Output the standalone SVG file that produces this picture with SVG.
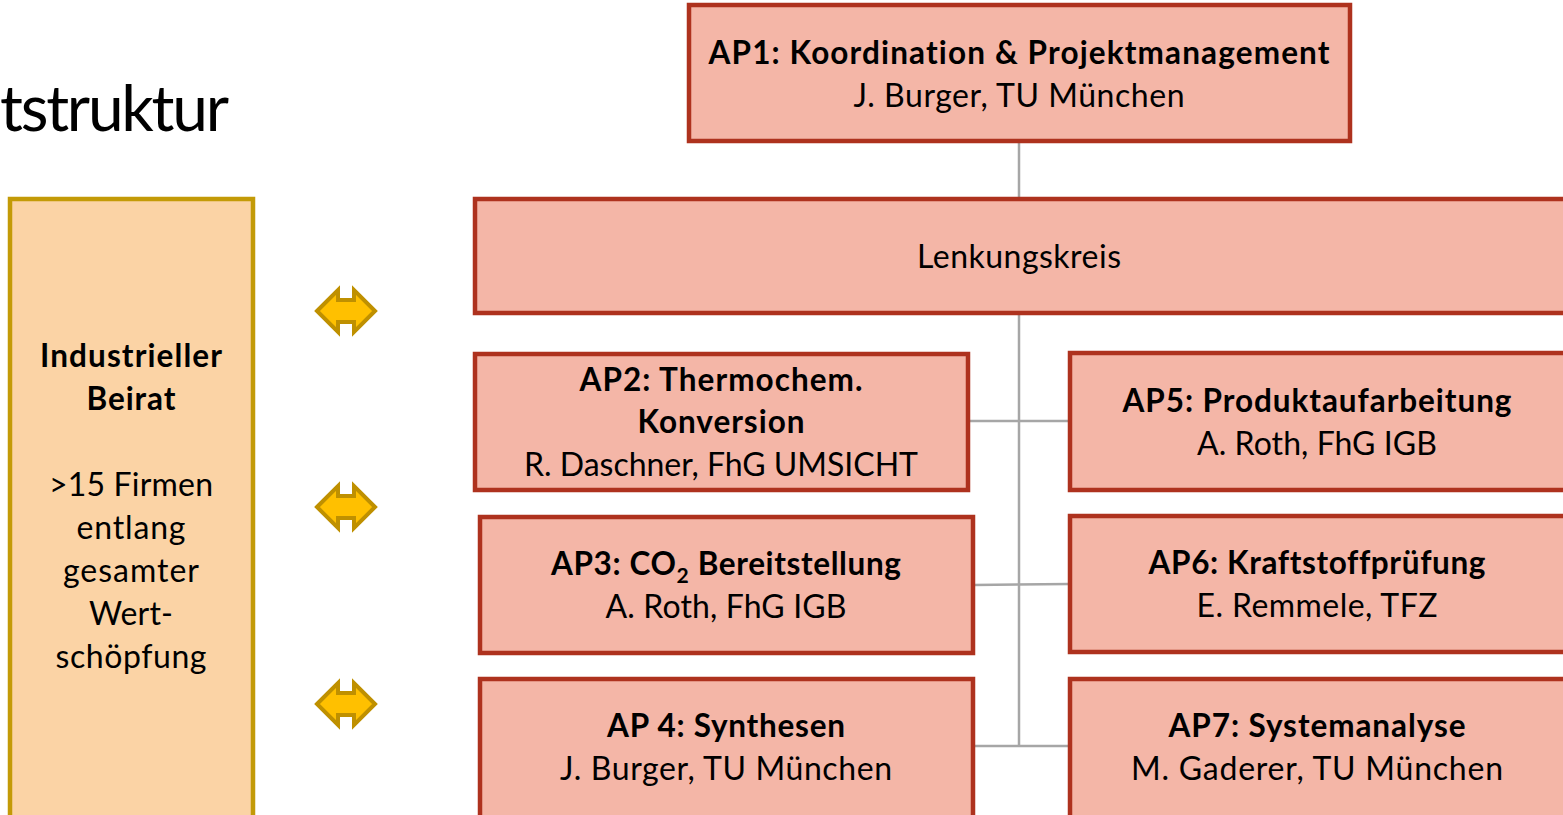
<svg xmlns="http://www.w3.org/2000/svg" width="1563" height="815" viewBox="0 0 1563 815">
<defs>
<style>
.box{fill:#F4B6A7;stroke:#AE321E;stroke-width:4.5}
.beirat{fill:#FBD3A5;stroke:#C39A07;stroke-width:4.5}
.conn{stroke:#A6A6A6;stroke-width:2.5;fill:none}
.arr{fill:#FFC000;stroke:#BF9000;stroke-width:4;stroke-linejoin:miter}
text{font-family:Lato,"Open Sans","Liberation Sans",sans-serif;fill:#000;text-anchor:middle;font-variant-ligatures:none}
.b{font-weight:bold;font-size:31.5px}
.n{font-size:32px}
.title{font-size:64px;text-anchor:end}
</style>
<path id="dbl" d="M-29,0 L-8,-21 L-8,-11 L8,-11 L8,-21 L29,0 L8,21 L8,11 L-8,11 L-8,21 Z"/>
</defs>
<rect width="1563" height="815" fill="#fff"/>
<text class="title" x="229" y="131" textLength="229">tstruktur</text>
<g id="connectors">
<line class="conn" x1="1019" y1="141" x2="1019" y2="199"/>
<line class="conn" x1="1019" y1="313" x2="1019" y2="747"/>
<line class="conn" x1="968" y1="421" x2="1070" y2="421"/>
<line class="conn" x1="973" y1="585" x2="1070" y2="584"/>
<line class="conn" x1="973" y1="746" x2="1070" y2="746"/>
</g>
<g id="arrows">
<use href="#dbl" class="arr" x="346" y="311"/>
<use href="#dbl" class="arr" x="346" y="507"/>
<use href="#dbl" class="arr" x="346" y="704"/>
</g>
<g id="beirat">
<rect class="beirat" x="10" y="199" width="243" height="640"/>
<text class="b" x="131" y="367" textLength="182">Industrieller</text>
<text class="b" x="131" y="410" textLength="89">Beirat</text>
<text class="n" x="131" y="496" textLength="164">&gt;15 Firmen</text>
<text class="n" x="131" y="539" textLength="109">entlang</text>
<text class="n" x="131" y="582" textLength="136">gesamter</text>
<text class="n" x="131" y="625" textLength="84">Wert-</text>
<text class="n" x="131" y="668" textLength="151">schöpfung</text>
</g>
<g id="ap1">
<rect class="box" x="689" y="5" width="661" height="136"/>
<text class="b" x="1019" y="64" textLength="621">AP1: Koordination &amp; Projektmanagement</text>
<text class="n" x="1019" y="107" textLength="331">J. Burger, TU München</text>
</g>
<g id="lenkungskreis">
<rect class="box" x="475" y="199" width="1095" height="114"/>
<text class="n" x="1019" y="268" textLength="204">Lenkungskreis</text>
</g>
<g id="ap2">
<rect class="box" x="475" y="354" width="493" height="136"/>
<text class="b" x="721" y="391" textLength="283">AP2: Thermochem.</text>
<text class="b" x="721" y="433" textLength="167">Konversion</text>
<text class="n" x="721" y="476" textLength="394">R. Daschner, FhG UMSICHT</text>
</g>
<g id="ap5">
<rect class="box" x="1070" y="353" width="500" height="137"/>
<text class="b" x="1317" y="412" textLength="389">AP5: Produktaufarbeitung</text>
<text class="n" x="1317" y="455" textLength="240">A. Roth, FhG IGB</text>
</g>
<g id="ap3">
<rect class="box" x="480" y="517" width="493" height="136"/>
<text class="b" x="726" y="575" textLength="350">AP3: CO<tspan font-size="21" dy="8">2</tspan><tspan dy="-8"> Bereitstellung</tspan></text>
<text class="n" x="726" y="618" textLength="241">A. Roth, FhG IGB</text>
</g>
<g id="ap6">
<rect class="box" x="1070" y="516" width="500" height="136"/>
<text class="b" x="1317" y="574" textLength="337">AP6: Kraftstoffprüfung</text>
<text class="n" x="1317" y="617" textLength="241">E. Remmele, TFZ</text>
</g>
<g id="ap4">
<rect class="box" x="480" y="679" width="493" height="160"/>
<text class="b" x="726" y="737" textLength="238">AP 4: Synthesen</text>
<text class="n" x="726" y="780" textLength="332">J. Burger, TU München</text>
</g>
<g id="ap7">
<rect class="box" x="1070" y="679" width="500" height="160"/>
<text class="b" x="1317" y="737" textLength="297">AP7: Systemanalyse</text>
<text class="n" x="1317" y="780" textLength="372">M. Gaderer, TU München</text>
</g>
</svg>
